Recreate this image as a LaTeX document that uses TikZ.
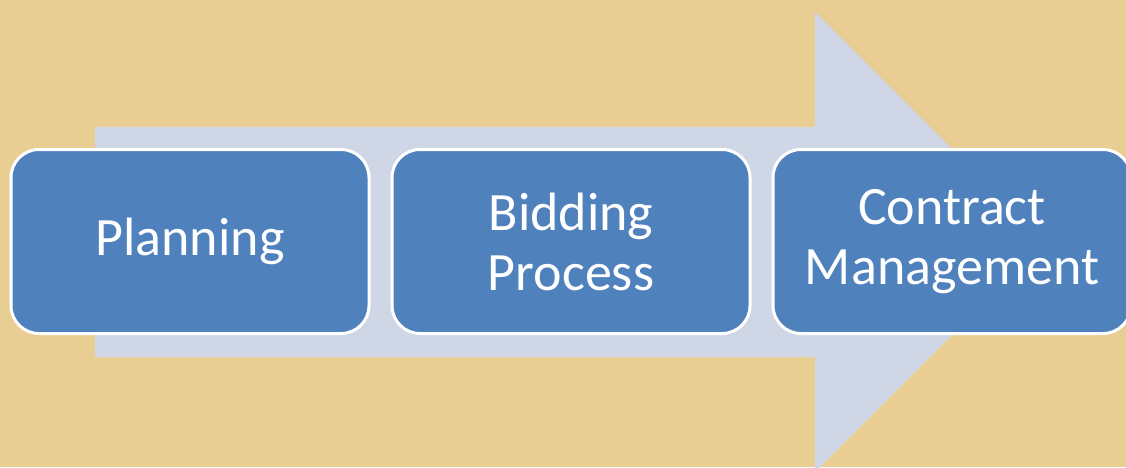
\documentclass[tikz,border=0pt]{standalone}
\usepackage{fontspec}
\setmainfont{Carlito}
\usetikzlibrary{positioning}

\definecolor{papyrus}{HTML}{E9CE93}
\definecolor{arrowgray}{HTML}{CFD6E6}
\definecolor{stageblue}{HTML}{4F81BD}

\tikzset{
    stage/.style={draw=white, line width=3pt, fill=stageblue, rounded corners=28pt,
        minimum width=358pt, minimum height=184pt, text=white, align=center,
        font=\fontsize{54}{60}\selectfont}
}

\begin{document}
\begin{tikzpicture}[x=1pt, y=-1pt]
    % Background
    \fill[papyrus] (0,0) rectangle (1126,467);
    \useasboundingbox (0,0) rectangle (1126,467);

    % Big arrow
    \fill[arrowgray] (95,127) -- (815,127) -- (815,12) -- (1045,242)
        -- (815,472) -- (815,357) -- (95,357) -- cycle;

    % Stages
    \node[stage] (plan) at (190,241.5) {Planning};
    \node[stage, right=20pt of plan] (bid) {Bidding\\Process};
    \node[stage, right=20pt of bid] (contract) {Contract\\Management};
\end{tikzpicture}
\end{document}
